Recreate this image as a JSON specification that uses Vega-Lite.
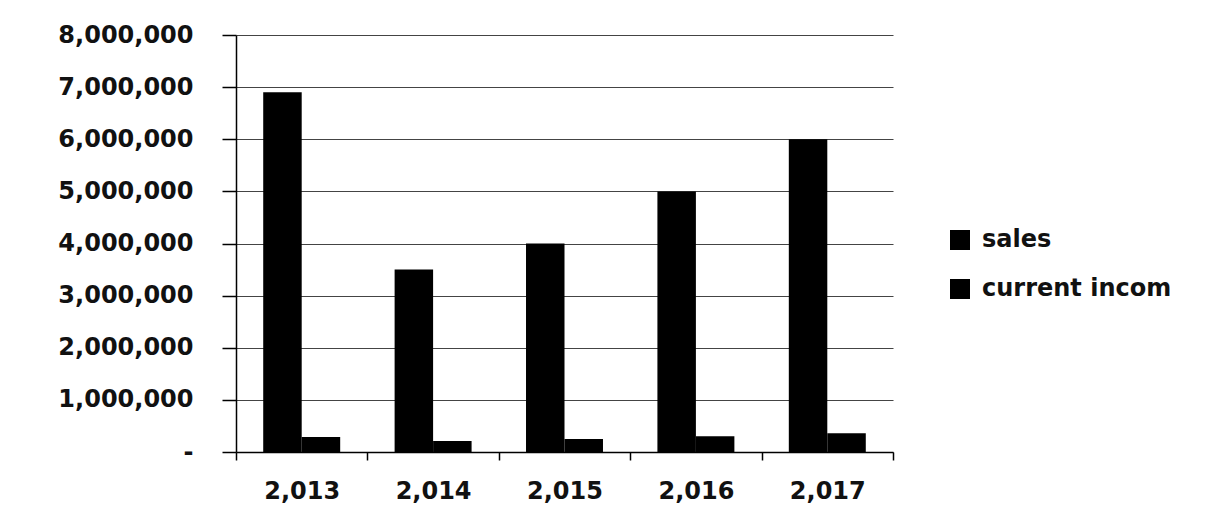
{
  "$schema": "https://vega.github.io/schema/vega-lite/v6.json",
  "width": 657,
  "height": 417,
  "autosize": {"type": "none"},
  "padding": {"left": 236, "top": 35, "right": 338, "bottom": 75},
  "background": "white",
  "data": {
    "values": [
      {"year": 2013, "series": "sales", "value": 6900000},
      {"year": 2013, "series": "current incom", "value": 290000},
      {"year": 2014, "series": "sales", "value": 3500000},
      {"year": 2014, "series": "current incom", "value": 210000},
      {"year": 2015, "series": "sales", "value": 4000000},
      {"year": 2015, "series": "current incom", "value": 250000},
      {"year": 2016, "series": "sales", "value": 5000000},
      {"year": 2016, "series": "current incom", "value": 300000},
      {"year": 2017, "series": "sales", "value": 6000000},
      {"year": 2017, "series": "current incom", "value": 360000}
    ]
  },
  "mark": {"type": "bar", "color": "#000"},
  "encoding": {
    "x": {
      "field": "year",
      "type": "ordinal",
      "scale": {"paddingInner": 0, "paddingOuter": 0},
      "axis": {
        "title": null,
        "labelAngle": 0,
        "labelExpr": "isNumber(datum.value) && isFinite(datum.value) ? format(datum.value, ',') : ''",
        "labelFont": "DejaVu Sans",
        "labelFontWeight": "bold",
        "labelFontSize": 24,
        "labelColor": "#111",
        "labelPadding": 19,
        "tickBand": "extent",
        "tickSize": 8,
        "tickColor": "#000",
        "tickWidth": 1.5,
        "domainColor": "#000",
        "domainWidth": 1.5,
        "grid": false
      }
    },
    "xOffset": {
      "field": "series",
      "type": "nominal",
      "sort": ["sales", "current incom"],
      "scale": {"paddingInner": 0, "paddingOuter": 0.707}
    },
    "y": {
      "field": "value",
      "type": "quantitative",
      "scale": {"domain": [0, 8000000]},
      "axis": {
        "title": null,
        "values": [0, 1000000, 2000000, 3000000, 4000000, 5000000, 6000000, 7000000, 8000000],
        "labelExpr": "datum.value === 0 ? '-' : format(datum.value, ',')",
        "labelFont": "DejaVu Sans",
        "labelFontWeight": "bold",
        "labelFontSize": 24,
        "labelColor": "#111",
        "labelPadding": 29,
        "labelLimit": 300,
        "tickSize": 14,
        "tickColor": "#000",
        "tickWidth": 1.5,
        "domainColor": "#000",
        "domainWidth": 1.5,
        "grid": true,
        "gridColor": "#444",
        "gridWidth": 1.2
      }
    },
    "color": {
      "field": "series",
      "type": "nominal",
      "sort": ["sales", "current incom"],
      "scale": {"range": ["#000", "#000"]},
      "legend": {
        "title": null,
        "orient": "none",
        "legendX": 712,
        "legendY": 193,
        "symbolType": "square",
        "symbolSize": 400,
        "symbolStrokeWidth": 0,
        "labelFont": "DejaVu Sans",
        "labelFontWeight": "bold",
        "labelFontSize": 24,
        "labelColor": "#111",
        "labelOffset": 10,
        "labelLimit": 400,
        "rowPadding": 25
      }
    }
  },
  "config": {"view": {"stroke": null}}
}
